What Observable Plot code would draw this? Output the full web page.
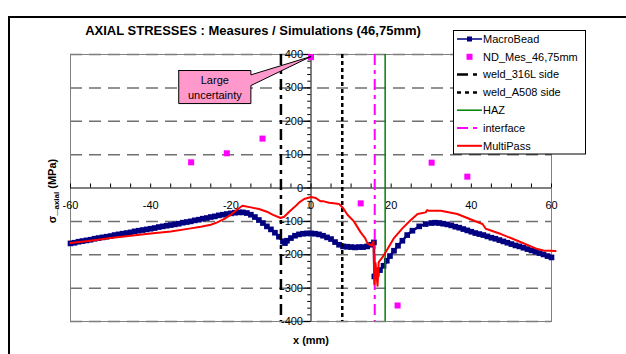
<!DOCTYPE html>
<html>
<head>
<meta charset="utf-8">
<script src="https://cdn.jsdelivr.net/npm/d3@7"></script>
<script src="https://cdn.jsdelivr.net/npm/@observablehq/plot@0.6"></script>
<style>
  html, body { margin: 0; padding: 0; background: #fff; }
  #chart { width: 626px; height: 354px; overflow: hidden; }
</style>
</head>
<body>
<div id="chart"></div>
<script>
// ---- Axial stress profiles along x (mm), stresses in MPa ----

// MacroBead simulation (line with square markers)
const macroBeadX = [
  -60,-59,-58,-57,-56,-55,-54,-53,-52,-51,-50,-49,-48,-47,-46,-45,-44,-43,-42,-41,
  -40,-39,-38,-37,-36,-35,-34,-33,-32,-31,-30,-29,-28,-27,-26,-25,-24,-23,-22,-21,
  -20,-19,-18,-17,-16,-15,-14,-13,-12,-11,-10,-9,-8,-7,-6.5,-6,-5,-4,-3,-2,
  -1,0,1,2,3,4,5,6,7,8,9,10,11,12,13,14,15,15.7,
  15.8,16.4,17.2,18.1,18.9,19.7,20.7,21.7,22.8,24,25.3,27,28.6,30,31,32,33,34,35,
  36,37,38,39,40,41,42,43,44,45,46,47,48,49,50,51,52,53,54,55,56,57,58,59,60
];
const macroBeadY = [
  -166,-164,-161,-159,-157,-155,-152,-150,-148,-146,-144,-141,-139,-137,-135,-133,-130,-128,-126,-124,
  -122,-120,-117,-115,-113,-111,-109,-107,-104,-102,-100,-97,-95,-92,-90,-87,-85,-82,-80,-78,
  -76,-74,-73,-73,-75,-80,-87,-96,-105,-115,-124,-134,-146,-160,-165,-158,-150,-143,-139,-137,
  -136,-136,-137,-139,-143,-148,-153,-162,-170,-175,-176,-177,-178,-177,-177,-175,-170,-163,
  -265,-257,-246,-233,-218,-204,-188,-173,-158,-141,-128,-115,-108,-105,-104,-105,-107,-109,-112,
  -116,-119,-123,-127,-131,-135,-138,-141,-145,-149,-152,-156,-160,-164,-168,-172,-175,-179,-183,-187,-191,-195,-199,-204,-208
];

// MultiPass simulation (plain line)
const multiPassX = [
  -60,-55,-50,-45,-40,-35,-30,-27.5,-25,-23.4,-21.5,-20,-18.5,-17.1,-15,-13,-11,-9.6,-7.6,-6.7,
  -5.5,-4.2,-3,-1.7,0,1.2,2.4,3.2,4.5,5.7,7,8,9.1,10.7,12.4,13.5,14.1,15.1,15.6,
  15.8,16.1,16.6,16.9,17.8,19.1,20.7,22.8,24.9,26.6,28.6,29,29.3,32.4,36.5,40.7,42.8,43.6,
  47.4,51.5,56.5,58,61
];
const multiPassY = [
  -165,-158,-150,-143,-136,-130,-121,-116,-110,-103,-92,-80,-65,-53,-58,-63,-71,-80,-90,-86,
  -72,-58,-44,-33,-27,-30,-40,-40,-44,-46,-48,-60,-80,-100,-133,-150,-166,-173,-160,
  -288,-225,-293,-222,-208,-183,-150,-121,-96,-78,-73,-66,-68,-68,-78,-98,-108,-122,
  -138,-158,-183,-187,-189
];

// Neutron diffraction measurements ND_Mes_46,75mm
const ndX = [-29.9, -21, -12.1, 0, 12.4, 21.6, 30.1, 39];
const ndY = [77, 104, 148, 392, -46, -352, 76, 34];

// Reference positions (mm)
const weld316L = -7.5;
const weldA508 = 7.8;
const interfacePos = 15.9;
const hazPos = 18.5;

// Axis ticks and labels
const xTickLabels = [-60, -40, -20, 0, 20, 40, 60];
const yTickLabels = [400, 300, 200, 100, 0, -100, -200, -300, -400];

// Callout on the uncertain measurement at x = 0
const calloutTarget = { x: 0, y: 394 };
const calloutBox = { x1: -33, x2: -15, y1: 253, y2: 352, baseTop: 339, baseBottom: 307 };
const calloutText = "Large\nuncertainty";

const titleText = "AXIAL STRESSES : Measures / Simulations (46,75mm)";

// ---- build ----
const font = "'Liberation Sans', Arial, Helvetica, sans-serif";
const macro = macroBeadX.map((x, i) => ({ x, y: macroBeadY[i] }));
const multi = multiPassX.map((x, i) => ({ x, y: multiPassY[i] }));
const nd = ndX.map((x, i) => ({ x, y: ndY[i] }));
const xMinor = d3.range(-60, 61, 5);
const yMinor = d3.range(-400, 401, 20);
const gridY = yTickLabels.filter(v => v !== 0);

const calloutShape = [
  { x: calloutBox.x1, y: calloutBox.y2 },
  { x: calloutBox.x2, y: calloutBox.y2 },
  { x: calloutBox.x2, y: calloutBox.baseTop },
  { x: calloutTarget.x, y: calloutTarget.y },
  { x: calloutBox.x2, y: calloutBox.baseBottom },
  { x: calloutBox.x2, y: calloutBox.y1 },
  { x: calloutBox.x1, y: calloutBox.y1 },
  { x: calloutBox.x1, y: calloutBox.y2 }
];

const dashLong = "11,5,4,5";

const svg = Plot.plot({
  width: 626,
  height: 354,
  marginLeft: 70,
  marginRight: 75,
  marginTop: 54,
  marginBottom: 33,
  x: { domain: [-60, 60], axis: null },
  y: { domain: [-400, 400], axis: null },
  style: { fontFamily: font, fontSize: "11px", background: "white", overflow: "visible", color: "black" },
  marks: [
    // dashed horizontal gridlines
    Plot.ruleY(gridY, { stroke: "#707070", strokeWidth: 1.5, strokeDasharray: "12,7" }),
    Plot.frame({ stroke: "#808080", strokeWidth: 1 }),
    // x axis through y = 0
    Plot.ruleY([0], { stroke: "black", strokeWidth: 1 }),
    Plot.ruleX(xMinor, { x: d => d, y1: 0, y2: 12, stroke: "black", strokeWidth: 1 }),
    // y axis through x = 0
    Plot.ruleX([0], { stroke: "black", strokeWidth: 1 }),
    Plot.ruleY(yMinor, { y: d => d, x1: -0.8, x2: 0, stroke: "black", strokeWidth: 1 }),
    Plot.ruleY(yTickLabels, { y: d => d, x1: -1.8, x2: 0, stroke: "black", strokeWidth: 1 }),
    Plot.text(yTickLabels, { x: 0, y: d => d, text: d => String(d), textAnchor: "end", dx: -8, fill: "black" }),
    Plot.text(xTickLabels, { x: d => d, y: 0, text: d => String(d), dy: 17.5, fill: "black" }),
    // MacroBead
    Plot.line(macro, { x: "x", y: "y", stroke: "#000080", strokeWidth: 2.5 }),
    Plot.dot(macro, { x: "x", y: "y", symbol: "square", r: 3.2, fill: "#000080", stroke: "none" }),
    // measurements
    Plot.dot(nd, { x: "x", y: "y", symbol: "square", r: 3.4, fill: "#ff00ff", stroke: "none" }),
    // reference positions
    Plot.ruleX([weld316L], { stroke: "black", strokeWidth: 2.5, strokeDasharray: dashLong }),
    Plot.ruleX([weldA508], { stroke: "black", strokeWidth: 2.5, strokeDasharray: "4,3" }),
    Plot.ruleX([hazPos], { stroke: "#008000", strokeWidth: 1.5 }),
    Plot.ruleX([interfacePos], { stroke: "#ff00ff", strokeWidth: 2, strokeDasharray: dashLong }),
    // MultiPass
    Plot.line(multi, { x: "x", y: "y", stroke: "#ff0000", strokeWidth: 2 }),
    // callout
    Plot.line(calloutShape, { x: "x", y: "y", fill: "#ff99cc", stroke: "black", strokeWidth: 1 }),
    Plot.text([calloutText], {
      x: (calloutBox.x1 + calloutBox.x2) / 2,
      y: (calloutBox.y1 + calloutBox.y2) / 2,
      text: d => d, lineHeight: 1.36, fill: "black", fontSize: 11
    })
  ]
});

const root = d3.select(svg);

// page rules of the surrounding table
root.append("line").attr("x1", 8).attr("x2", 626).attr("y1", 17).attr("y2", 17)
  .attr("stroke", "black").attr("stroke-width", 2);
root.append("line").attr("x1", 9).attr("x2", 9).attr("y1", 16).attr("y2", 354)
  .attr("stroke", "black").attr("stroke-width", 2);

// title
root.append("text").attr("x", 253).attr("y", 35).attr("text-anchor", "middle")
  .attr("font-family", font).attr("font-size", 13).attr("font-weight", "bold")
  .text(titleText);

// axis titles
root.append("text").attr("x", 311).attr("y", 344).attr("text-anchor", "middle")
  .attr("font-family", font).attr("font-size", 11).attr("font-weight", "bold")
  .text("x (mm)");
const yl = root.append("text").attr("transform", "translate(56,191) rotate(-90)")
  .attr("text-anchor", "middle").attr("font-family", font).attr("font-size", 11)
  .attr("font-weight", "bold");
yl.append("tspan").text("σ_");
yl.append("tspan").attr("font-size", 8).attr("dy", 3).text("axial");
yl.append("tspan").attr("dy", -3).text(" (MPa)");

// legend
const legendItems = [
  { label: "MacroBead", color: "#000080", width: 1.5, line: true, marker: 5 },
  { label: "ND_Mes_46,75mm", color: "#ff00ff", line: false, marker: 6 },
  { label: "weld_316L side", color: "black", width: 2.5, line: true, dash: dashLong },
  { label: "weld_A508 side", color: "black", width: 2.5, line: true, dash: "4,4", len: 20 },
  { label: "HAZ", color: "#008000", width: 1.5, line: true },
  { label: "interface", color: "#ff00ff", width: 2, line: true, dash: dashLong },
  { label: "MultiPass", color: "#ff0000", width: 2, line: true }
];
const lg = root.append("g").attr("font-family", font).attr("font-size", 11)
  .attr("text-anchor", "start");
lg.append("rect").attr("x", 453.5).attr("y", 30.5).attr("width", 132).attr("height", 123.5)
  .attr("fill", "white").attr("stroke", "black").attr("stroke-width", 1);
legendItems.forEach((it, i) => {
  const cy = 39 + i * 17.8;
  if (it.line) {
    lg.append("line").attr("x1", 457).attr("x2", 457 + (it.len || 25)).attr("y1", cy).attr("y2", cy)
      .attr("stroke", it.color).attr("stroke-width", it.width)
      .attr("stroke-dasharray", it.dash || null);
  }
  if (it.marker) {
    lg.append("rect").attr("x", 469.5 - it.marker / 2).attr("y", cy - it.marker / 2)
      .attr("width", it.marker).attr("height", it.marker).attr("fill", it.color);
  }
  lg.append("text").attr("x", 483).attr("y", cy).attr("dy", "0.35em")
    .attr("text-anchor", "start").attr("fill", "black").text(it.label);
});

document.getElementById("chart").appendChild(svg);
</script>
</body>
</html>
